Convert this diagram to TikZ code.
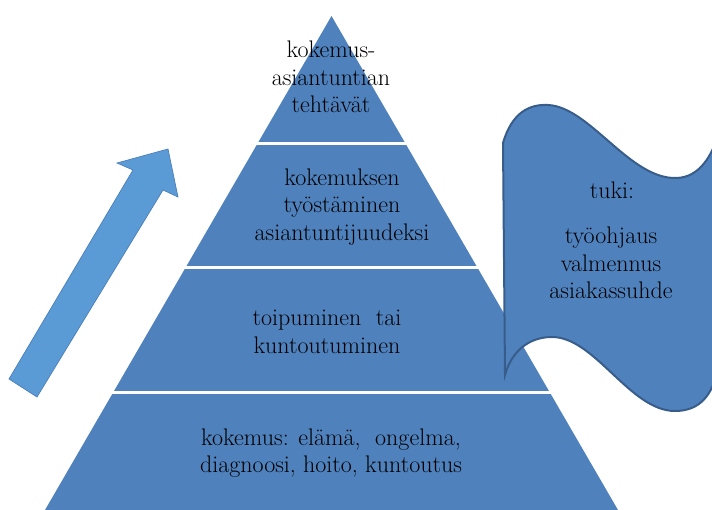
\documentclass[tikz,border=0pt]{standalone}
\definecolor{pyrblue}{HTML}{4F81BD}
\definecolor{arrblue}{HTML}{5B9BD5}
\definecolor{arredge}{HTML}{4A7EBB}
\definecolor{waveedge}{HTML}{385D8A}
\tikzset{
  lbl/.style={align=center, text=black, font=\rmfamily\fontsize{24}{27.5}\selectfont, inner sep=0pt},
  gapline/.style={white, line width=2.8pt},
}
\begin{document}
\begin{tikzpicture}[x=1pt,y=-1pt]
\useasboundingbox (0,0) rectangle (712,510);
\begin{scope}
\clip (0,0) rectangle (712,510);
% pyramid
\fill[pyrblue] (331.5,16) -- (623.8,520) -- (39.2,520) -- cycle;
\coordinate (g1l) at (200,143.3); \coordinate (g1r) at (460,143.3);
\coordinate (g2l) at (100,267.7); \coordinate (g2r) at (560,267.7);
\coordinate (g3l) at (0,392.7);   \coordinate (g3r) at (712,392.7);
\draw[gapline] (g1l) -- (g1r);
\draw[gapline] (g2l) -- (g2r);
\draw[gapline] (g3l) -- (g3r);
% arrow
\filldraw[fill=arrblue, draw=arredge, line width=0.7pt, line join=miter]
  (9,379) -- (133,170) -- (117,163) -- (168,149) -- (178,197) -- (163,190) -- (37,397) -- cycle;
% wave
\filldraw[fill=pyrblue, draw=waveedge, line width=2pt]
  (503,143) .. controls (512,112) and (530,104) .. (548,105)
  .. controls (590,107) and (630,180) .. (677,178)
  .. controls (700,177) and (712,155) .. (718,135)
  -- (718,370)
  .. controls (712,395) and (700,411) .. (675,411)
  .. controls (630,411) and (595,337) .. (552,337)
  .. controls (530,337) and (512,350) .. (505,375)
  -- cycle;
\end{scope}
% texts
\node[lbl] (top) at (331,77) {kokemus-\\asiantuntian\\tehtävät};
\node[lbl] (second) at (342,207) {kokemuksen\\työstäminen\\asiantuntijuudeksi};
\node[lbl] (third) at (327,332) {toipuminen\ \ tai\\kuntoutuminen};
\node[lbl] (base) at (331,453) {kokemus: elämä,\ \ ongelma,\\diagnoosi, hoito, kuntoutus};
\node[lbl] (tuki) at (612,190) {tuki:};
\node[lbl] (support) at (611,263) {työohjaus\\valmennus\\asiakassuhde};
\end{tikzpicture}
\end{document}
